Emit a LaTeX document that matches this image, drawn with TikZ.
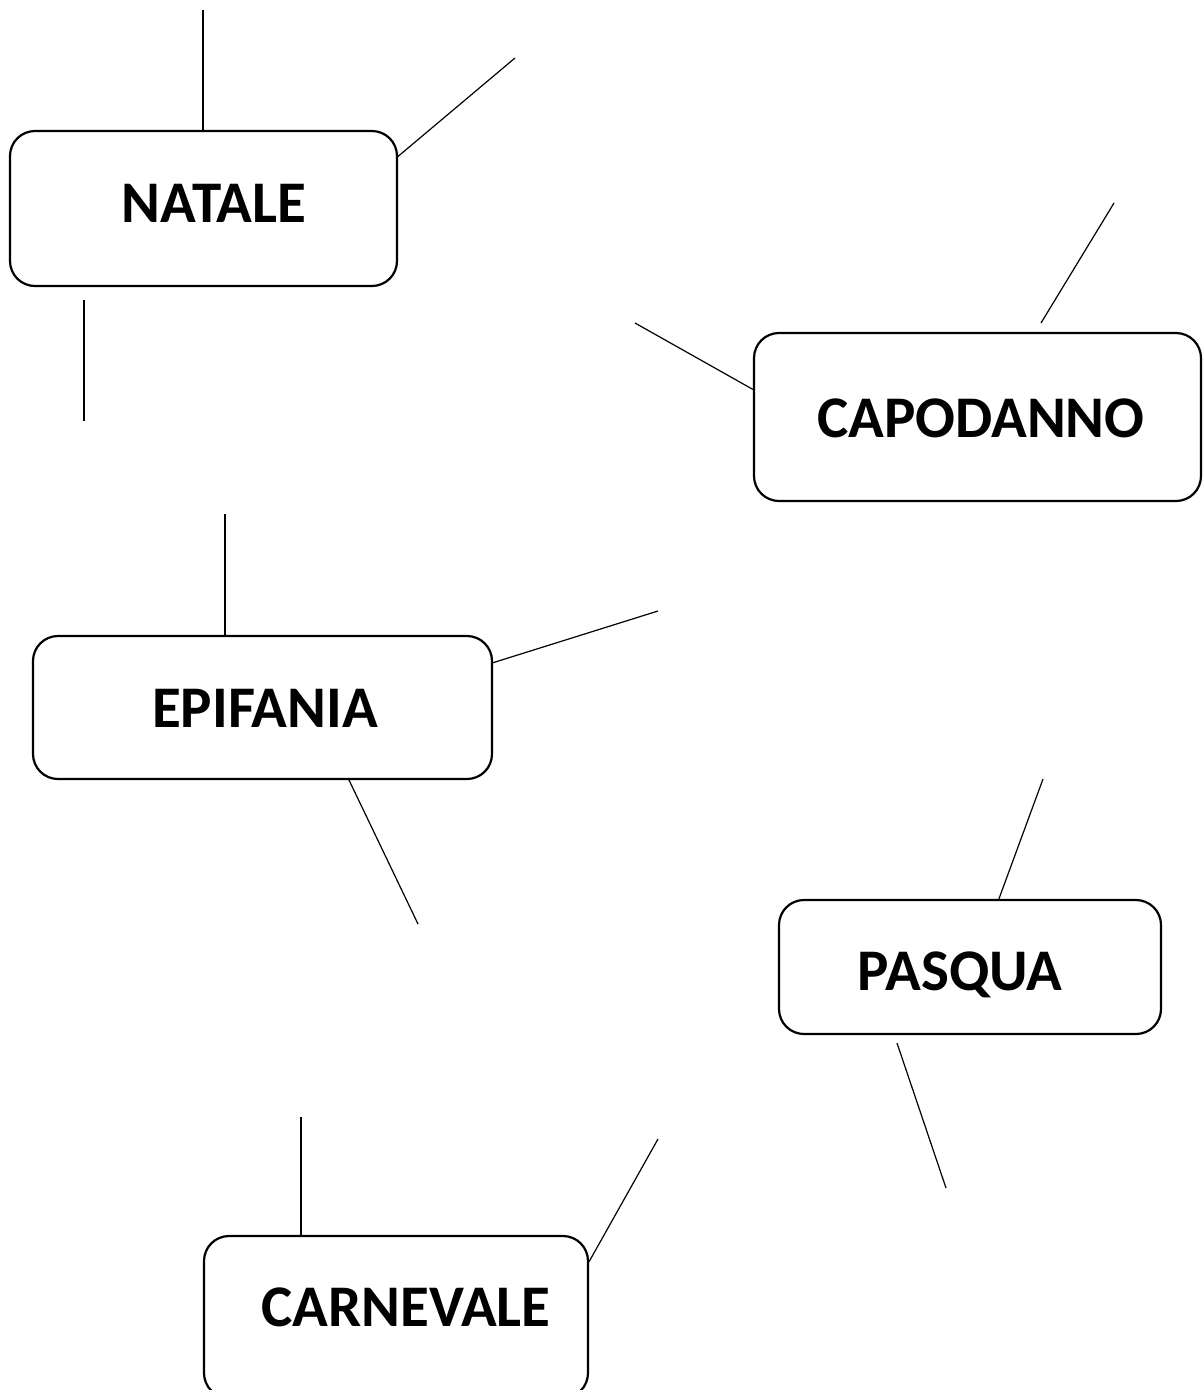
\documentclass[tikz,border=0pt]{standalone}
\usepackage{fontspec}
\setmainfont{Carlito}

\tikzset{
  festa/.style={draw, line width=2.2pt, rounded corners=25pt, inner sep=0pt},
  festatesto/.style={anchor=base, inner sep=0pt, font=\fontsize{59}{70}\selectfont\bfseries},
  ramo/.style={line width=1.2pt}
}

\begin{document}
\begin{tikzpicture}[x=1pt, y=-1pt]
	\useasboundingbox (0,0) rectangle (1203,1390);

	% caselle
	\node [festa, minimum width=387pt, minimum height=155pt] (natale) at (203.5, 208.5) {};
	\node [festatesto] (natale-t) at (214, 222.5) {NATALE};

	\node [festa, minimum width=447pt, minimum height=168pt] (capodanno) at (977.5, 417) {};
	\node [festatesto] (capodanno-t) at (981, 437) {CAPODANNO};

	\node [festa, minimum width=459pt, minimum height=143pt] (epifania) at (262.5, 707.5) {};
	\node [festatesto] (epifania-t) at (265, 727) {EPIFANIA};

	\node [festa, minimum width=382pt, minimum height=134pt] (pasqua) at (970, 967) {};
	\node [festatesto] (pasqua-t) at (960, 990) {PASQUA};

	\node [festa, minimum width=384pt, minimum height=162pt] (carnevale) at (396, 1317) {};
	\node [festatesto] (carnevale-t) at (406, 1326) {CARNEVALE};

	% rami
	\coordinate (n1) at (203, 10);
	\coordinate (n2) at (515, 58);
	\coordinate (n3a) at (84, 300);
	\coordinate (n3b) at (84, 421);
	\draw [ramo] (n1) -- (n1 |- natale.north);
	\draw [ramo] (natale.15.7) -- (n2);
	\draw [ramo] (n3a) -- (n3b);

	\coordinate (c1) at (635, 323);
	\coordinate (c2a) at (1114, 203);
	\coordinate (c2b) at (1041, 323);
	\draw [ramo] (c1) -- (capodanno.173.8);
	\draw [ramo] (c2a) -- (c2b);

	\coordinate (e1) at (225, 514);
	\coordinate (e2) at (658, 611);
	\coordinate (e3) at (418, 924);
	\draw [ramo] (e1) -- (e1 |- epifania.north);
	\draw [ramo] (epifania.11.9) -- (e2);
	\draw [ramo] (epifania.-40.6) -- (e3);

	\coordinate (p1) at (1043, 779);
	\coordinate (p2a) at (897, 1043);
	\coordinate (p2b) at (946, 1188);
	\draw [ramo] (pasqua.67.3) -- (p1);
	\draw [ramo] (p2a) -- (p2b);

	\coordinate (k1) at (301, 1117);
	\coordinate (k2) at (658, 1139);
	\draw [ramo] (k1) -- (k1 |- carnevale.north);
	\draw [ramo] (carnevale.16.5) -- (k2);
\end{tikzpicture}
\end{document}
